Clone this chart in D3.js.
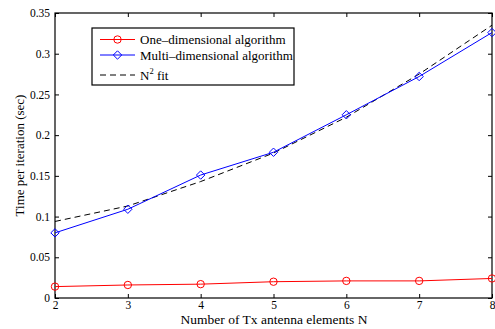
<!DOCTYPE html>
<html>
<head>
<meta charset="utf-8">
<script src="https://cdn.jsdelivr.net/npm/d3@7"></script>
<style>
  html, body { margin: 0; padding: 0; background: #fff; }
</style>
</head>
<body>
<svg id="chart" width="495" height="329"></svg>
<script>
// Antenna element counts on the x axis
const antennaN = [2, 3, 4, 5, 6, 7, 8];
// Time per iteration (sec)
const oneDim = [0.014, 0.016, 0.017, 0.020, 0.021, 0.021, 0.024];
const multiDim = [0.080, 0.109, 0.151, 0.179, 0.225, 0.272, 0.326];
const n2Fit = [0.094, 0.113, 0.143, 0.178, 0.222, 0.275, 0.335];
const xTicks = [2, 3, 4, 5, 6, 7, 8];
const yTicks = [0, 0.05, 0.1, 0.15, 0.2, 0.25, 0.3, 0.35];

const FONT = "'Liberation Serif', 'Times New Roman', 'DejaVu Serif', serif";
const svg = d3.select("#chart");
const m = { left: 55, top: 13, right: 492, bottom: 298 };
const x = d3.scaleLinear().domain([2, 8]).range([m.left, m.right]);
const y = d3.scaleLinear().domain([0, 0.35]).range([m.bottom, m.top]);
const tickLen = 4;
const fs = 11.5;

// Axes (inward ticks on all four sides)
const fmtY = d => d === 0 ? "0" : String(+d.toFixed(2));
const gx = svg.append("g").attr("transform", `translate(0,${m.bottom})`)
  .call(d3.axisBottom(x).tickValues(xTicks).tickSizeInner(-tickLen).tickSizeOuter(0)
    .tickPadding(3).tickFormat(d3.format("d")));
const gxt = svg.append("g").attr("transform", `translate(0,${m.top})`)
  .call(d3.axisTop(x).tickValues(xTicks).tickSizeInner(-tickLen).tickSizeOuter(0).tickFormat(""));
const gy = svg.append("g").attr("transform", `translate(${m.left},0)`)
  .call(d3.axisLeft(y).tickValues(yTicks).tickSizeInner(-tickLen).tickSizeOuter(0).tickPadding(5).tickFormat(fmtY));
const gyr = svg.append("g").attr("transform", `translate(${m.right},0)`)
  .call(d3.axisRight(y).tickValues(yTicks).tickSizeInner(-tickLen).tickSizeOuter(0).tickFormat(""));
[gx, gxt, gy, gyr].forEach(g => {
  g.attr("font-family", null).attr("font-size", null);
  g.select(".domain").remove();
  g.selectAll("line").attr("stroke", "#000").attr("stroke-width", 1);
  g.selectAll("text").style("font-family", FONT).style("font-size", fs + "px").attr("fill", "#000");
});

// Plot frame
svg.append("rect")
  .attr("x", m.left).attr("y", m.top)
  .attr("width", m.right - m.left).attr("height", m.bottom - m.top)
  .attr("fill", "none").attr("stroke", "#000").attr("stroke-width", 1.2);

const line = d3.line().x((d, i) => x(antennaN[i])).y(d => y(d));

// N^2 fit (dashed)
svg.append("path").datum(n2Fit).attr("d", line)
  .attr("fill", "none").attr("stroke", "#000").attr("stroke-width", 1)
  .attr("stroke-dasharray", "6,4");

// Multi-dimensional algorithm
svg.append("path").datum(multiDim).attr("d", line)
  .attr("fill", "none").attr("stroke", "#0000ff").attr("stroke-width", 1);
const diamond = (cx, cy, r) => `M${cx},${cy - r}L${cx + r},${cy}L${cx},${cy + r}L${cx - r},${cy}Z`;
svg.append("g").selectAll("path").data(multiDim).join("path")
  .attr("d", (d, i) => diamond(x(antennaN[i]), y(d), 4.2))
  .attr("fill", "none").attr("stroke", "#0000ff").attr("stroke-width", 1);

// One-dimensional algorithm
svg.append("path").datum(oneDim).attr("d", line)
  .attr("fill", "none").attr("stroke", "#ff0000").attr("stroke-width", 1);
svg.append("g").selectAll("circle").data(oneDim).join("circle")
  .attr("cx", (d, i) => x(antennaN[i])).attr("cy", d => y(d)).attr("r", 3.7)
  .attr("fill", "none").attr("stroke", "#ff0000").attr("stroke-width", 1);

// Axis labels
svg.append("text").attr("x", 274).attr("y", 324)
  .attr("text-anchor", "middle").style("font-family", FONT).style("font-size", "13.5px")
  .text("Number of Tx antenna elements N");
svg.append("text").attr("transform", `translate(24,${(m.top + m.bottom) / 2}) rotate(-90)`)
  .attr("text-anchor", "middle").style("font-family", FONT).style("font-size", "13px")
  .text("Time per iteration (sec)");

// Legend
const lg = svg.append("g");
lg.append("rect").attr("x", 92).attr("y", 28).attr("width", 202).attr("height", 57)
  .attr("fill", "#fff").attr("stroke", "#000").attr("stroke-width", 1.2);
const rows = [
  { label: "One\u2013dimensional algorithm", color: "#ff0000", marker: "circle", y: 39.5 },
  { label: "Multi\u2013dimensional algorithm", color: "#0000ff", marker: "diamond", y: 55 },
  { label: null, color: "#000", marker: null, y: 75 }
];
rows.forEach(r => {
  lg.append("line").attr("x1", 100).attr("x2", 135).attr("y1", r.y).attr("y2", r.y)
    .attr("stroke", r.color).attr("stroke-width", 1)
    .attr("stroke-dasharray", r.marker ? null : "6,4");
  if (r.marker === "circle") {
    lg.append("circle").attr("cx", 117.5).attr("cy", r.y).attr("r", 3.7)
      .attr("fill", "none").attr("stroke", r.color);
  } else if (r.marker === "diamond") {
    lg.append("path").attr("d", diamond(117.5, r.y, 4.2))
      .attr("fill", "none").attr("stroke", r.color);
  }
  const t = lg.append("text").attr("x", 140).attr("y", r.y + 4.5)
    .style("font-family", FONT).style("font-size", "13px");
  if (r.label) {
    t.text(r.label);
  } else {
    t.append("tspan").text("N");
    t.append("tspan").attr("dy", -5.5).style("font-size", "8.5px").text("2");
    t.append("tspan").attr("dy", 5.5).text(" fit");
  }
});
</script>
</body>
</html>
